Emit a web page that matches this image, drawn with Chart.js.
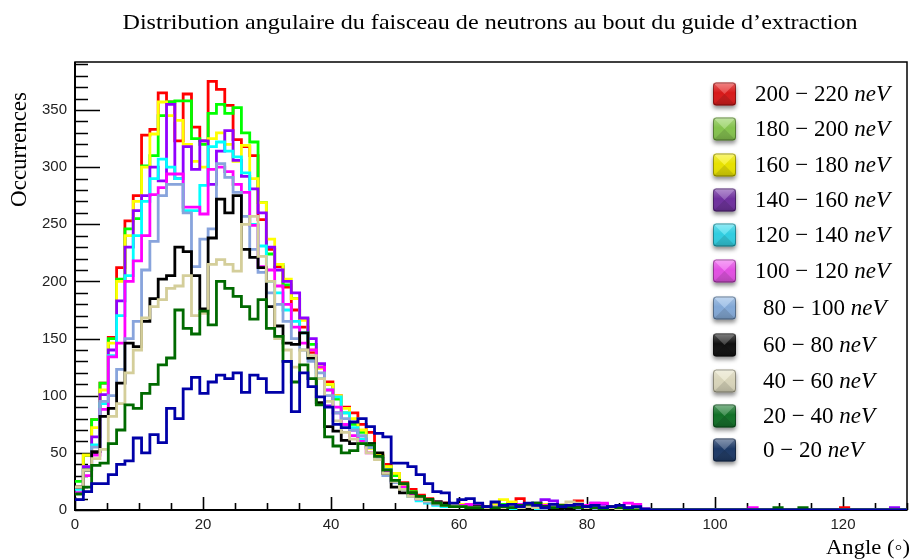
<!DOCTYPE html>
<html>
<head>
<meta charset="utf-8">
<script src="https://cdn.jsdelivr.net/npm/chart.js@4.4.1/dist/chart.umd.min.js"></script>
<style>
  html, body { margin: 0; padding: 0; background: #ffffff; }
  #wrap { position: relative; width: 914px; height: 559px; }
</style>
</head>
<body>
<div id="wrap"><canvas id="c" width="914" height="559"></canvas></div>
<script>
// Histogram binning: 100 bins over 0..130 degrees
const nBins = 100;
const angleMin = 0;
const angleMax = 130;

// Counts per bin, one array per energy band
const band200_220 = [20,48,79,111,151,212,253,275,328,333, 365,357,323,364,335,323,375,368,354,324,
  318,310,254,228,213,195,175,160,138,125, 112,100,90,85,75,68,48,40,32,24,
  18,13,10,7,6,5,4,3,4,3, 4,3,6,10,4,3,2,3,2,4, 8,3,2,1,2,1,0,1,0,0,
  0,0,0,0,0,0,0,0,0,0, 0,0,0,0,0,0,0,0,0,0, 0,0,2,0,0,0,0,0,0,0];
const band180_200 = [25,48,79,111,150,202,246,255,301,310, 345,357,358,358,325,320,347,355,347,352,
  330,322,269,224,215,197,185,167,145,125, 110,97,85,75,68,58,45,38,30,22,
  16,12,9,7,5,4,3,5,3,2, 3,5,3,4,2,6,3,2,4,2, 3,2,1,2,0,1,1,0,0,0,
  0,0,0,0,0,0,0,0,0,0, 0,0,0,0,0,0,0,0,0,0, 0,0,0,0,0,0,0,0,0,0];
const band160_180 = [20,48,72,105,146,200,240,270,300,329, 357,345,341,320,305,300,325,330,320,305,
  319,290,269,237,215,202,185,166,140,124, 110,100,89,80,70,54,48,38,32,22,
  15,11,8,6,6,4,5,3,4,2, 5,9,7,3,4,2,5,3,2,3, 2,4,1,2,1,0,1,0,0,0,
  0,0,0,0,0,0,0,0,0,0, 0,0,0,0,0,0,0,0,0,0, 0,0,0,0,0,0,0,0,0,0];
const band140_160 = [15,38,64,101,140,183,230,262,275,300, 288,355,290,318,298,323,285,314,332,306,
  292,281,260,230,210,200,190,168,150,128, 91,85,75,70,62,55,45,35,26,20,
  14,10,8,6,5,4,3,4,5,3, 2,4,3,2,5,6,9,8,3,2, 4,3,6,5,2,3,2,1,0,0,
  0,0,0,0,0,0,0,0,0,0, 0,0,0,0,0,0,0,0,0,0, 0,0,0,0,0,0,0,0,2,0];
const band120_140 = [18,35,57,93,135,170,205,240,270,290, 307,300,290,262,262,284,318,322,314,309,
  295,250,231,200,190,175,165,155,133,115, 105,99,85,72,62,55,45,35,25,18,
  12,8,6,4,3,4,3,2,3,2, 2,3,1,2,3,1,2,4,2,1, 2,1,0,1,2,0,0,1,0,0,
  0,0,0,0,0,0,0,0,0,0, 0,0,0,0,0,0,0,0,0,0, 0,0,0,0,0,0,0,0,0,0];
const band100_120 = [15,30,48,88,134,146,200,218,240,276, 282,294,294,265,265,259,298,300,296,285,
  278,249,213,210,196,180,160,146,140,125, 105,90,75,65,60,50,45,33,25,20,
  14,10,8,7,6,5,4,5,4,3, 3,2,4,5,3,2,4,3,5,2, 3,4,6,6,3,2,6,5,1,0,
  0,0,0,0,0,0,0,0,0,0, 0,2,0,0,0,0,0,0,0,0, 0,0,0,0,0,0,0,0,0,0];
const band80_100 = [20,35,55,95,100,123,150,165,210,235, 275,285,285,260,213,237,246,303,291,278,
  257,228,208,190,180,165,150,140,130,120, 100,85,80,70,65,55,45,30,24,18,
  12,9,7,5,4,4,3,2,3,2, 2,3,2,4,2,3,1,2,3,2, 1,2,1,0,1,0,0,0,0,0,
  0,0,0,0,0,0,0,0,0,0, 0,0,0,0,0,0,0,0,0,0, 0,0,0,0,0,0,0,0,0,0];
const band60_80 = [20,35,51,82,89,111,146,143,165,185, 202,205,230,226,205,176,238,272,260,275,
  228,221,212,178,161,146,145,155,133,94, 73,69,61,58,58,58,50,32,20,15,
  15,12,9,7,6,4,3,2,3,2, 2,1,3,2,1,2,3,1,2,1, 2,1,2,1,0,1,0,0,0,0,
  0,0,0,0,0,0,0,0,0,0, 0,0,0,0,0,0,0,0,0,0, 0,0,0,0,0,0,0,0,0,0];
const band40_60 = [20,35,45,53,82,93,120,140,168,178, 184,194,196,205,170,172,215,219,215,209,
  250,257,222,200,150,140,125,140,135,115, 95,78,68,62,58,50,44,32,25,18,
  12,10,8,6,4,4,3,2,2,2, 3,2,4,2,3,2,2,3,5,7, 6,2,3,1,2,1,0,1,0,0,
  0,0,0,0,0,0,0,0,0,0, 0,0,0,0,0,0,0,0,0,0, 0,0,0,0,0,0,0,0,0,0];
const band20_40 = [14,20,39,41,58,70,92,89,102,110, 127,133,175,159,154,174,162,200,194,187,
  178,167,184,159,152,130,112,127,115,92, 64,56,50,52,58,57,47,35,26,23,
  15,12,9,6,4,3,3,2,2,3, 2,3,2,4,5,6,3,2,4,3, 2,3,2,1,3,2,1,0,0,0,
  0,0,0,0,0,0,0,0,0,0, 0,0,0,0,2,0,0,2,0,0, 0,0,0,0,0,0,0,0,0,0];
const band0_20 = [9,16,23,23,31,40,43,63,50,66, 59,89,80,106,116,102,112,118,115,120,
  103,118,115,103,103,130,86,120,108,99, 90,75,72,77,80,73,67,64,41,41,
  38,31,23,16,15,6,9,10,6,3, 7,4,5,3,6,4,2,5,3,4, 5,3,4,2,3,4,2,3,1,0,
  0,0,0,0,0,0,0,0,0,0, 0,0,0,0,0,0,0,0,0,0, 0,0,0,0,0,0,0,0,0,0];

// Axis ticks
const xTickStep = 20;
const yTickStep = 50;
const yTop = 392;

// Legend entries, top to bottom
const bandLabels = ['200 − 220', '180 − 200', '160 − 180', '140 − 160', '120 − 140', '100 − 120',
  ' 80 − 100', ' 60 − 80', ' 40 − 60', ' 20 − 40', ' 0 − 20'];
const bandCounts = [band200_220, band180_200, band160_180, band140_160, band120_140, band100_120,
  band80_100, band60_80, band40_60, band20_40, band0_20];
const lineColors = ['#ff0000', '#00ff00', '#ffff00', '#9000ff', '#00ffff', '#ff00ff',
  '#88a4dc', '#000000', '#d4ce9a', '#006a00', '#0000a8'];
const keyColors = ['#e31c1c', '#8ccd52', '#f4ee00', '#7433a6', '#33d9ec', '#ee55ee',
  '#8ab2e2', '#111111', '#e4e0c4', '#14762a', '#1f3d6c'];

const binEdges = Array.from({ length: nBins + 1 }, (_, i) => angleMin + i * (angleMax - angleMin) / nBins);

function stepPoints(counts) {
  const pts = counts.map((v, i) => ({ x: binEdges[i], y: v }));
  pts.push({ x: binEdges[nBins], y: counts[nBins - 1] });
  return pts;
}

const serif = '"Liberation Serif", "DejaVu Serif", serif';

// Draw text squeezed/stretched horizontally to a given width
function fitText(ctx, text, x, y, width, align) {
  const w = ctx.measureText(text).width;
  const sx = width / w;
  ctx.save();
  ctx.translate(x, y);
  ctx.scale(sx, 1);
  ctx.textAlign = align;
  ctx.fillText(text, 0, 0);
  ctx.restore();
}

function roundRectPath(ctx, x, y, w, h, r) {
  ctx.beginPath();
  ctx.moveTo(x + r, y);
  ctx.lineTo(x + w - r, y);
  ctx.quadraticCurveTo(x + w, y, x + w, y + r);
  ctx.lineTo(x + w, y + h - r);
  ctx.quadraticCurveTo(x + w, y + h, x + w - r, y + h);
  ctx.lineTo(x + r, y + h);
  ctx.quadraticCurveTo(x, y + h, x, y + h - r);
  ctx.lineTo(x, y + r);
  ctx.quadraticCurveTo(x, y, x + r, y);
  ctx.closePath();
}

function keySquare(ctx, x, y, s, col) {
  ctx.save();
  ctx.shadowColor = 'rgba(0,0,0,0.45)';
  ctx.shadowBlur = 4;
  ctx.shadowOffsetY = 3;
  roundRectPath(ctx, x, y, s, s, 3);
  ctx.fillStyle = col;
  ctx.fill();
  ctx.restore();

  ctx.save();
  roundRectPath(ctx, x, y, s, s, 3);
  ctx.clip();
  const cx = x + s / 2, cy = y + s / 2;
  ctx.fillStyle = 'rgba(255,255,255,0.22)';
  ctx.beginPath(); ctx.moveTo(x, y); ctx.lineTo(x + s, y); ctx.lineTo(cx, cy); ctx.closePath(); ctx.fill();
  ctx.fillStyle = 'rgba(0,0,0,0.16)';
  ctx.beginPath(); ctx.moveTo(x, y + s); ctx.lineTo(x + s, y + s); ctx.lineTo(cx, cy); ctx.closePath(); ctx.fill();
  ctx.fillStyle = 'rgba(0,0,0,0.05)';
  ctx.beginPath(); ctx.moveTo(x, y); ctx.lineTo(x, y + s); ctx.lineTo(cx, cy); ctx.closePath(); ctx.fill();
  ctx.beginPath(); ctx.moveTo(x + s, y); ctx.lineTo(x + s, y + s); ctx.lineTo(cx, cy); ctx.closePath(); ctx.fill();
  const g = ctx.createLinearGradient(0, y, 0, y + s);
  g.addColorStop(0, 'rgba(255,255,255,0.30)');
  g.addColorStop(0.45, 'rgba(255,255,255,0.0)');
  g.addColorStop(1, 'rgba(0,0,0,0.10)');
  ctx.fillStyle = g;
  ctx.fillRect(x, y, s, s);
  ctx.restore();

  ctx.save();
  roundRectPath(ctx, x + 0.5, y + 0.5, s - 1, s - 1, 3);
  ctx.strokeStyle = 'rgba(0,0,0,0.35)';
  ctx.lineWidth = 1;
  ctx.stroke();
  ctx.restore();
}

// Frame and inward ticks, drawn under the histograms
const framePlugin = {
  id: 'framePlugin',
  beforeDatasetsDraw(chart) {
    const { ctx, chartArea: a, scales: { x, y } } = chart;
    ctx.save();
    ctx.strokeStyle = '#000';
    ctx.lineWidth = 1.5;
    ctx.strokeRect(a.left, a.top, a.right - a.left, a.bottom - a.top);
    ctx.lineWidth = 2;
    ctx.beginPath();
    ctx.moveTo(a.left, a.top); ctx.lineTo(a.left, a.bottom); ctx.lineTo(a.right, a.bottom);
    ctx.stroke();
    ctx.lineWidth = 1.6;
    ctx.beginPath();
    for (let v = 0; v <= yTop; v += 10) {
      const py = Math.round(y.getPixelForValue(v)) + 0.5;
      const len = v % yTickStep === 0 ? 25 : 13;
      ctx.moveTo(a.left, py); ctx.lineTo(a.left + len, py);
    }
    for (let v = 0; v <= angleMax; v += 5) {
      const px = Math.round(x.getPixelForValue(v)) + 0.5;
      const len = v % xTickStep === 0 ? 13 : 7;
      ctx.moveTo(px, a.bottom); ctx.lineTo(px, a.bottom - len);
    }
    ctx.stroke();
    ctx.restore();
  }
};

// Titles and legend
const textPlugin = {
  id: 'textPlugin',
  afterDraw(chart) {
    const { ctx } = chart;
    ctx.save();
    ctx.fillStyle = '#000';
    ctx.textBaseline = 'middle';

    ctx.font = '21px ' + serif;
    fitText(ctx, 'Distribution angulaire du faisceau de neutrons au bout du guide d\u2019extraction', 490, 23, 735, 'center');

    ctx.save();
    ctx.translate(20, 92);
    ctx.rotate(-Math.PI / 2);
    ctx.font = '23px ' + serif;
    ctx.textAlign = 'right';
    ctx.fillText('Occurrences', 0, 0);
    ctx.restore();

    ctx.font = '21px ' + serif;
    fitText(ctx, 'Angle (\u25E6)', 910, 548, 84, 'right');

    const rows = [94, 129, 165, 200, 235, 271, 308, 345, 381, 416, 450];
    for (let i = 0; i < bandLabels.length; i++) {
      const cy = rows[i];
      keySquare(ctx, 713, cy - 11.5, 23, keyColors[i]);
      const lab = bandLabels[i].trim();
      const tx = bandLabels[i].startsWith(' ') ? 763 : 755;
      ctx.font = '23px ' + serif;
      ctx.textAlign = 'left';
      ctx.fillText(lab + ' ', tx, cy + 1);
      const w = ctx.measureText(lab + ' ').width;
      ctx.font = 'italic 23px ' + serif;
      ctx.fillText('neV', tx + w, cy + 1);
    }
    ctx.restore();
  }
};

const datasets = bandCounts.map((counts, i) => ({
  label: bandLabels[i].trim() + ' neV',
  data: stepPoints(counts),
  borderColor: lineColors[i],
  backgroundColor: lineColors[i],
  borderWidth: 2.8,
  pointRadius: 0,
  stepped: true,
  fill: false,
  order: bandCounts.length - 1 - i
}));

const tickFont = { family: '"Liberation Sans", Arial, sans-serif', size: 15 };

new Chart(document.getElementById('c'), {
  type: 'line',
  data: { datasets },
  options: {
    responsive: false,
    animation: false,
    events: [],
    layout: { padding: { top: 62, right: 7, left: 0, bottom: 0 } },
    plugins: { legend: { display: false }, tooltip: { enabled: false }, title: { display: false } },
    scales: {
      x: {
        type: 'linear', min: angleMin, max: angleMax,
        grid: { display: false, drawTicks: false },
        border: { display: false },
        ticks: { stepSize: xTickStep, includeBounds: false, font: tickFont, color: '#222', padding: 6, maxRotation: 0 },
        afterFit(s) { s.height = 49; }
      },
      y: {
        type: 'linear', min: 0, max: yTop,
        grid: { display: false, drawTicks: false },
        border: { display: false },
        ticks: { stepSize: yTickStep, includeBounds: false, font: tickFont, color: '#222', padding: 8 },
        afterFit(s) { s.width = 75; }
      }
    }
  },
  plugins: [framePlugin, textPlugin]
});
</script>
</body>
</html>
